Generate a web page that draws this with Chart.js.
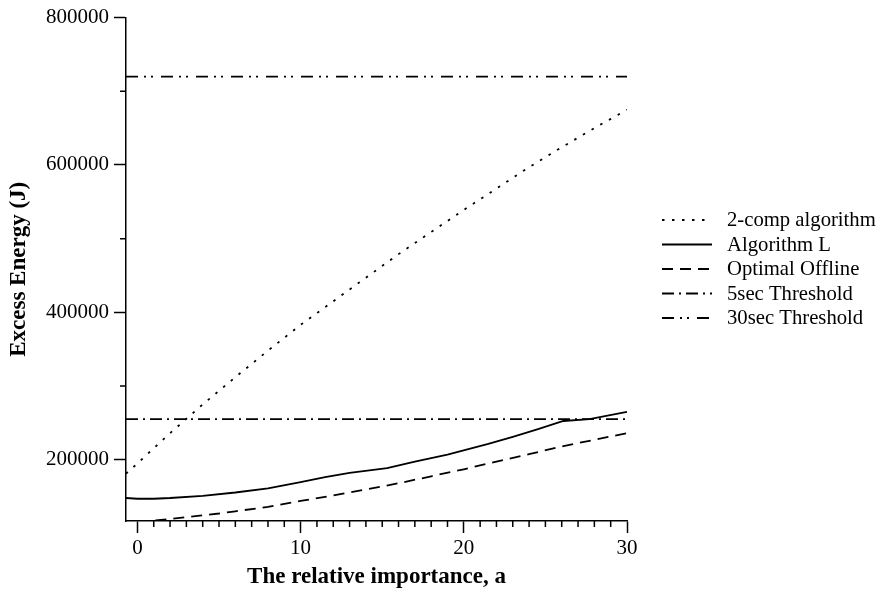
<!DOCTYPE html>
<html>
<head>
<meta charset="utf-8">
<title>Excess Energy vs relative importance</title>
<script src="https://cdn.jsdelivr.net/npm/chart.js@4.4.0/dist/chart.umd.min.js"></script>
<style>
  html, body { margin: 0; padding: 0; background: #fff; }
  #wrap { width: 882px; height: 592px; }
</style>
</head>
<body>
<div id="wrap"><canvas id="energyChart" width="882" height="592"></canvas></div>
<script>
// values
const twoCompA = [-0.7, 0, 2, 4, 6, 8, 10, 12, 14, 16, 18, 20, 22, 24, 26, 28, 30];
const twoCompE = [181000, 195000, 236000, 275000, 312000, 348000, 383000, 415000, 447000, 479000, 509000, 539000, 568000, 597000, 624000, 650000, 675000];

const algLA = [-0.7, 0, 1, 2, 4, 6, 8, 10, 11.5, 13, 15.3, 17, 19, 21.5, 23, 24.5, 26.1, 27.7, 30];
const algLE = [148000, 147000, 147000, 148000, 151000, 155500, 161000, 169500, 176500, 182000, 188500, 197500, 207000, 221500, 231000, 241000, 252500, 255000, 265000];

const offlineA = [0, 1, 2, 3, 4, 5, 6, 8, 10, 12, 14, 16, 18, 20, 22, 24, 26, 28, 30];
const offlineE = [116000, 117500, 119500, 122000, 124500, 127000, 130000, 136000, 144000, 151500, 159500, 168000, 177500, 187000, 197500, 207500, 218000, 227000, 236000];

const thresholdA = [-0.7, 30];
const fiveSecE = [255000, 255000];
const thirtySecE = [720000, 720000];

const seriesNames = ['2-comp algorithm', 'Algorithm L', 'Optimal Offline', '5sec Threshold', '30sec Threshold'];

const xTicks = [0, 10, 20, 30];
const yTicks = [200000, 400000, 600000, 800000];

const serif = "'Liberation Serif', 'Times New Roman', serif";

function pts(xs, ys) {
    return xs.map((x, i) => ({ x: x, y: ys[i] }));
}

function lineSet(label, xs, ys, dash) {
    return {
        label: label,
        data: pts(xs, ys),
        borderColor: '#000',
        borderWidth: 1.8,
        borderDash: dash,
        pointRadius: 0,
        tension: 0,
        fill: false
    };
}

// small ticks between the labelled ones, plus the legend on the right
const extrasPlugin = {
    id: 'extras',
    afterDraw(chart) {
        const ctx = chart.ctx;
        const xs = chart.scales.x;
        const ys = chart.scales.y;
        const area = chart.chartArea;

        ctx.save();
        ctx.strokeStyle = '#000';
        ctx.lineWidth = 1.5;
        ctx.setLineDash([]);
        ctx.beginPath();
        for (let v = 1; v < 30; v++) {
            if (v % 10 === 0) continue;
            const px = xs.getPixelForValue(v);
            ctx.moveTo(px, area.bottom);
            ctx.lineTo(px, area.bottom + 6);
        }
        for (let v = 300000; v < 800000; v += 200000) {
            const py = ys.getPixelForValue(v);
            ctx.moveTo(area.left - 6, py);
            ctx.lineTo(area.left, py);
        }
        ctx.stroke();

        // legend
        const lx = area.right + 35;
        ctx.font = '20.7px ' + serif;
        ctx.fillStyle = '#000';
        ctx.textBaseline = 'middle';
        ctx.textAlign = 'left';
        ctx.lineWidth = 1.8;
        chart.data.datasets.forEach((ds, i) => {
            const ly = 220 + i * 24.5;
            ctx.setLineDash(ds.borderDash || []);
            ctx.beginPath();
            ctx.moveTo(lx, ly);
            ctx.lineTo(lx + 50, ly);
            ctx.stroke();
            ctx.setLineDash([]);
            ctx.fillText(ds.label, lx + 65, ly + 1);
        });
        ctx.restore();
    }
};

const ctx = document.getElementById('energyChart');

new Chart(ctx, {
    type: 'line',
    data: {
        datasets: [
            lineSet(seriesNames[0], twoCompA, twoCompE, [2.5, 7.5]),
            lineSet(seriesNames[1], algLA, algLE, []),
            lineSet(seriesNames[2], offlineA, offlineE, [11, 7]),
            lineSet(seriesNames[3], thresholdA, fiveSecE, [12, 5, 2, 5]),
            lineSet(seriesNames[4], thresholdA, thirtySecE, [12, 6, 2, 5, 2, 8])
        ]
    },
    options: {
        responsive: false,
        animation: false,
        layout: { padding: { top: 17, right: 255, bottom: 0, left: 0 } },
        plugins: {
            legend: { display: false },
            tooltip: { enabled: false }
        },
        scales: {
            x: {
                type: 'linear',
                min: -0.7,
                max: 30,
                afterFit(scale) { scale.height = 71; },
                afterBuildTicks(scale) { scale.ticks = xTicks.map(v => ({ value: v })); },
                border: { display: true, color: '#000', width: 1.5 },
                grid: { drawOnChartArea: false, drawTicks: true, tickLength: 12, tickColor: '#000', tickWidth: 1.5 },
                ticks: { color: '#000', font: { family: serif, size: 21 }, padding: 3, maxRotation: 0,
                         callback: v => String(v) },
                title: {
                    display: true,
                    text: 'The relative importance, a',
                    color: '#000',
                    font: { family: serif, size: 23, weight: 'bold' },
                    padding: { top: 0, bottom: 1 }
                }
            },
            y: {
                type: 'linear',
                min: 116800,
                max: 800000,
                afterFit(scale) { scale.width = 126; },
                afterBuildTicks(scale) { scale.ticks = yTicks.map(v => ({ value: v })); },
                border: { display: true, color: '#000', width: 1.5 },
                grid: { drawOnChartArea: false, drawTicks: true, tickLength: 12, tickColor: '#000', tickWidth: 1.5 },
                ticks: { color: '#000', font: { family: serif, size: 21 }, padding: 5,
                         callback: v => String(v) },
                title: {
                    display: true,
                    text: 'Excess Energy (J)',
                    color: '#000',
                    font: { family: serif, size: 23, weight: 'bold' },
                    padding: { top: 5, bottom: 0 }
                }
            }
        }
    },
    plugins: [extrasPlugin]
});
</script>
</body>
</html>
